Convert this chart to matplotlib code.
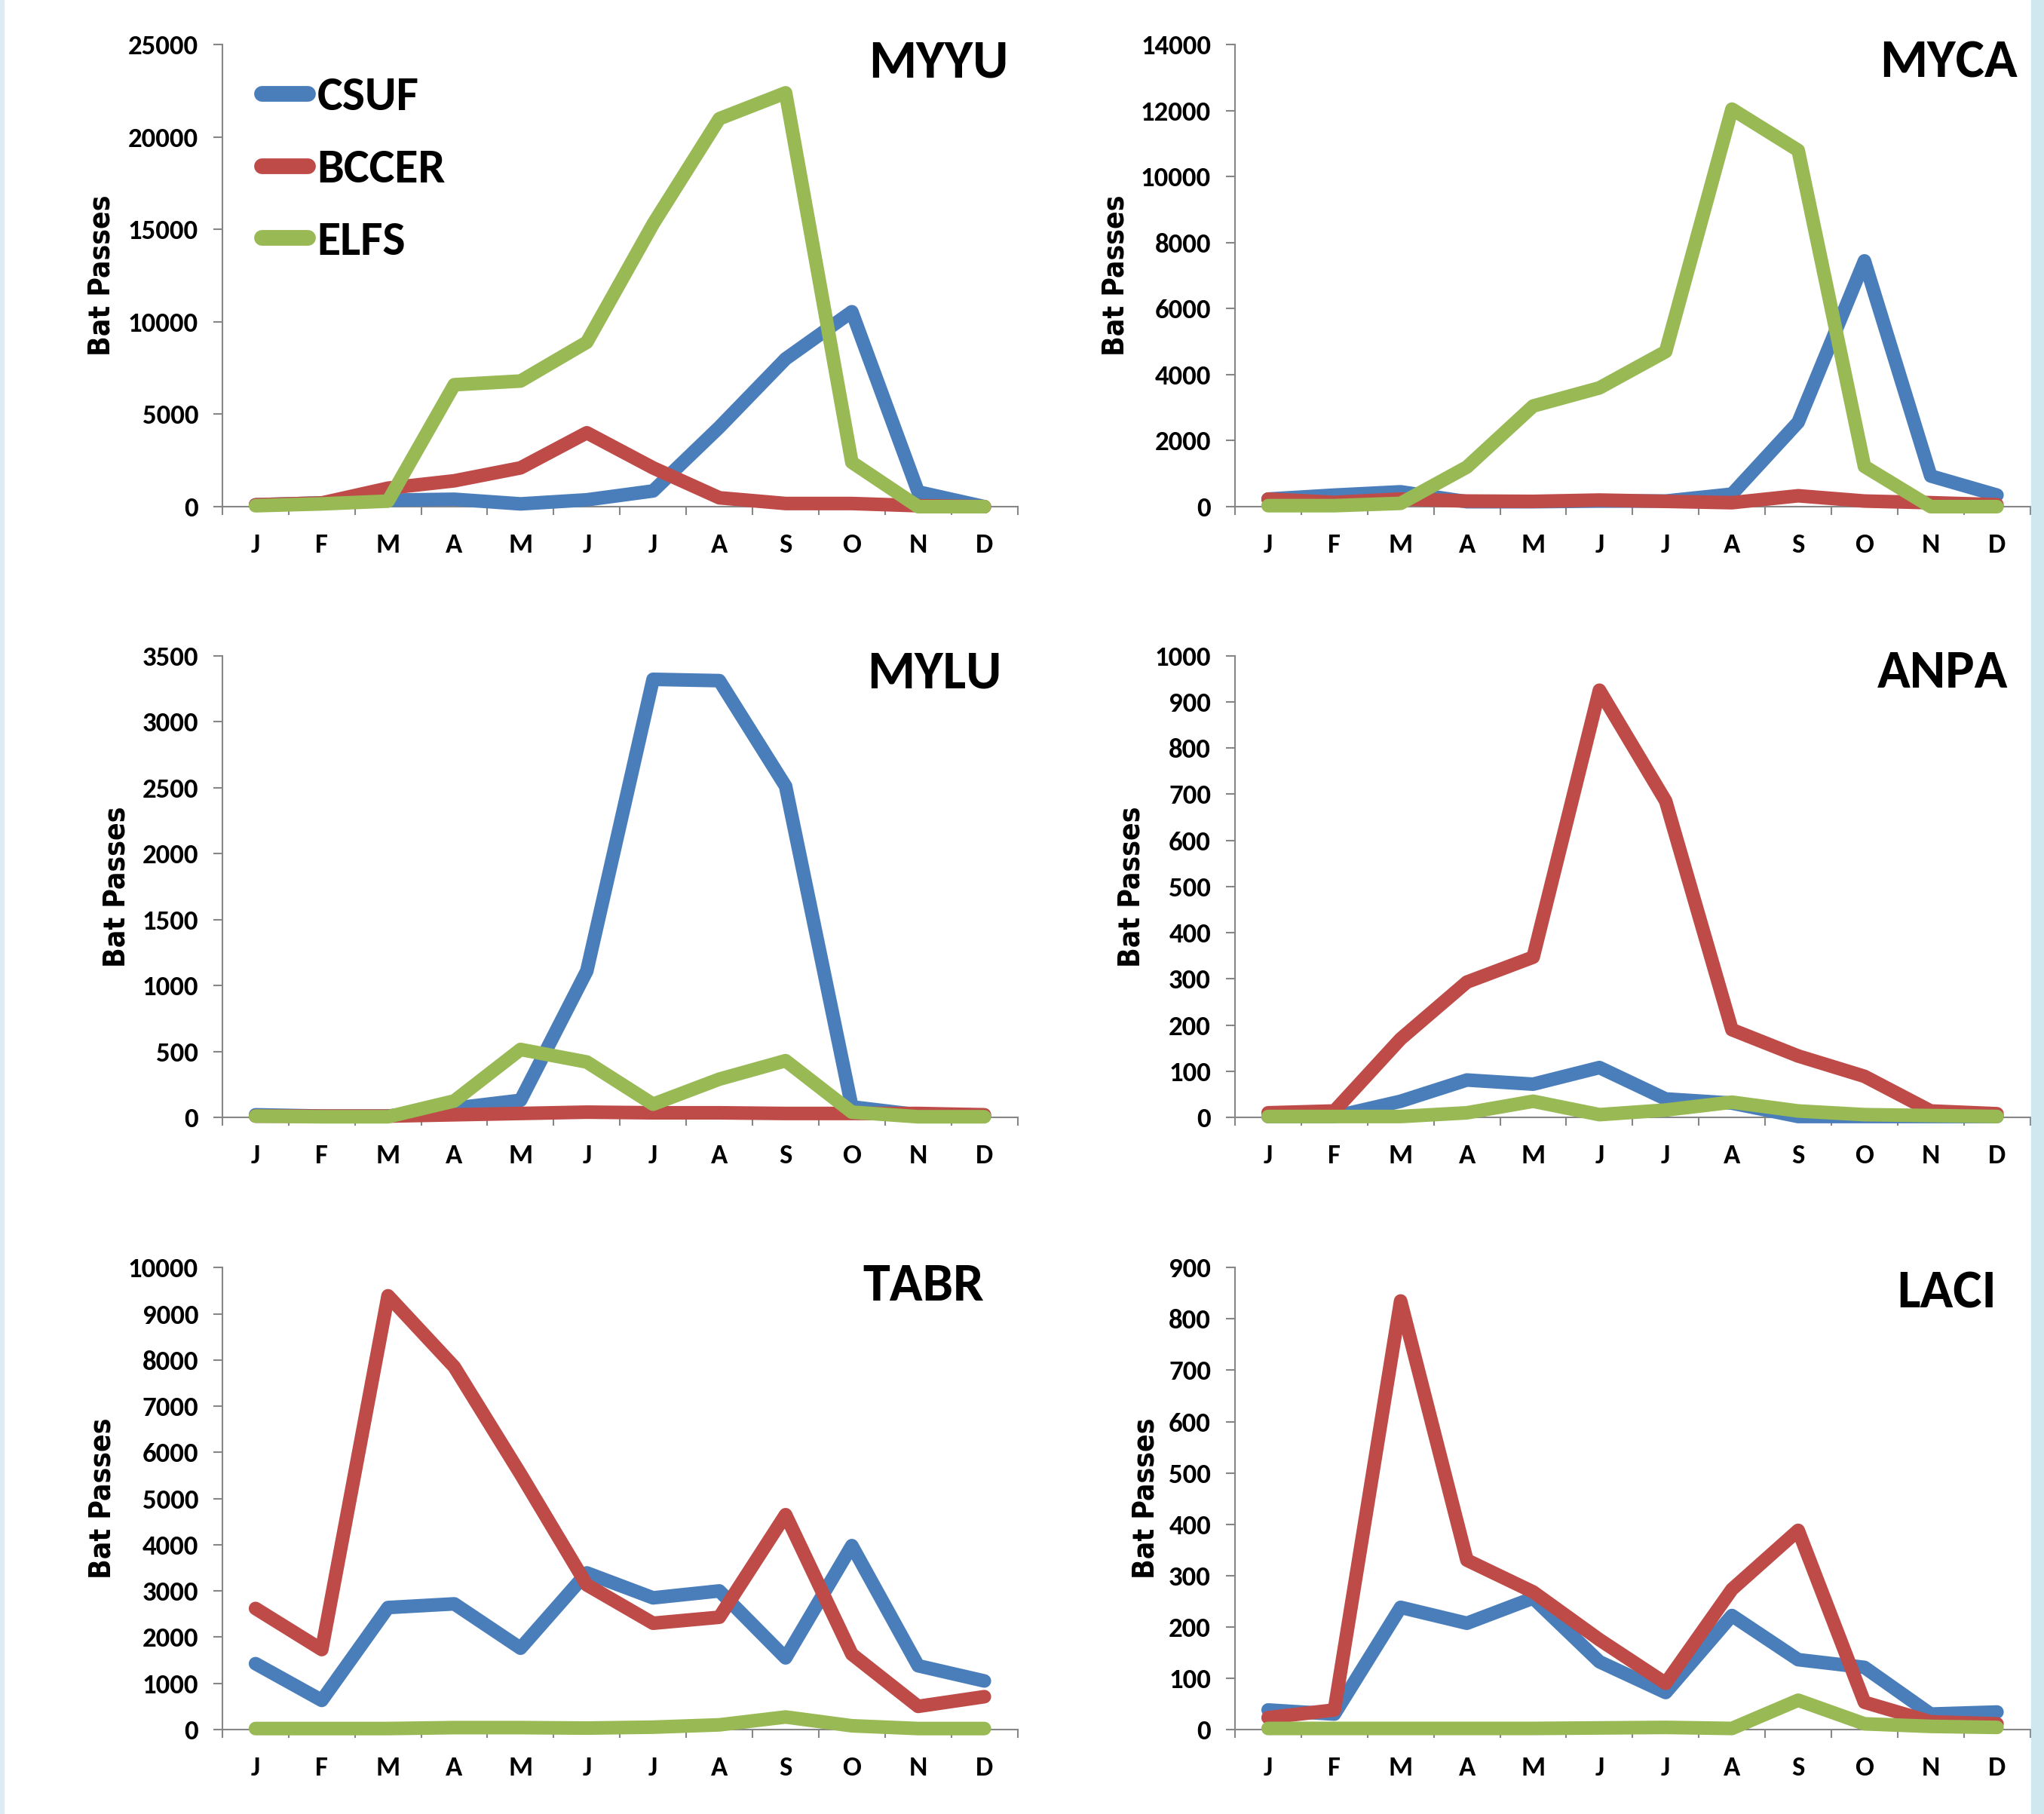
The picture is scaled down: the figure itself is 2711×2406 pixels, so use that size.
import matplotlib.pyplot as plt
from matplotlib.patches import Rectangle
from matplotlib.ticker import FixedLocator

months = ["J", "F", "M", "A", "M", "J", "J", "A", "S", "O", "N", "D"]
sites = ["CSUF", "BCCER", "ELFS"]
colors = ["#4A7EBB", "#BE4B48", "#98B954"]

# bat passes per month, one list per site
myyu_csuf = [100, 200, 350, 400, 150, 370, 850, 4300, 8000, 10550, 800, 0]
myyu_bccer = [100, 200, 1000, 1400, 2100, 4000, 2100, 480, 170, 170, 50, 0]
myyu_elfs = [50, 150, 300, 6600, 6800, 8900, 15300, 21000, 22400, 2400, 0, 0]

myca_csuf = [230, 350, 450, 150, 150, 170, 170, 380, 2560, 7450, 930, 350]
myca_bccer = [230, 130, 230, 170, 160, 200, 160, 120, 330, 170, 120, 60]
myca_elfs = [30, 30, 100, 1200, 3050, 3600, 4700, 12050, 10800, 1220, 0, 0]

mylu_csuf = [20, 10, 10, 70, 130, 1110, 3320, 3310, 2510, 80, 20, 10]
mylu_bccer = [10, 10, 10, 20, 30, 40, 35, 35, 30, 30, 30, 20]
mylu_elfs = [10, 5, 5, 125, 515, 420, 100, 290, 430, 40, 5, 5]

anpa_csuf = [2, 2, 35, 81, 72, 108, 40, 31, 2, 2, 2, 2]
anpa_bccer = [10, 14, 170, 293, 347, 925, 685, 190, 133, 89, 14, 8]
anpa_elfs = [2, 2, 2, 10, 35, 6, 16, 33, 14, 6, 4, 2]

tabr_csuf = [1425, 630, 2640, 2720, 1760, 3390, 2850, 3000, 1550, 3980, 1380, 1050]
tabr_bccer = [2620, 1730, 9390, 7850, 5530, 3130, 2300, 2430, 4650, 1630, 500, 710]
tabr_elfs = [20, 20, 20, 40, 40, 30, 50, 100, 270, 80, 20, 20]

laci_csuf = [38, 30, 238, 207, 256, 132, 72, 222, 136, 121, 30, 34]
laci_bccer = [23, 38, 835, 330, 268, 175, 90, 273, 388, 53, 15, 11]
laci_elfs = [2, 2, 2, 2, 2, 3, 4, 2, 57, 11, 6, 4]

panels = [
    ("MYYU", [myyu_csuf, myyu_bccer, myyu_elfs], 25000, 5000),
    ("MYCA", [myca_csuf, myca_bccer, myca_elfs], 14000, 2000),
    ("MYLU", [mylu_csuf, mylu_bccer, mylu_elfs], 3500, 500),
    ("ANPA", [anpa_csuf, anpa_bccer, anpa_elfs], 1000, 100),
    ("TABR", [tabr_csuf, tabr_bccer, tabr_elfs], 10000, 1000),
    ("LACI", [laci_csuf, laci_bccer, laci_elfs], 900, 100),
]

# axes boxes in figure fraction
col_x = [0.1088, 0.6042]
col_w = 0.389
row_y = [0.7207, 0.3840, 0.0466]
row_h = 0.2546

# title placement (right edge, centre height) and y label x offset
title_pos = [(0.989, 0.962), (0.984, 0.962), (0.98, 0.962),
             (0.972, 0.962), (0.958, 0.96), (0.958, 0.945)]
ylab_x = [-0.134, -0.132, -0.115, -0.112, -0.133, -0.094]

narrow = ["Carlito", "DejaVu Sans"]
axis_grey = "#868686"

fig = plt.figure(figsize=(27.11, 24.06), dpi=100)
fig.patches.append(Rectangle((0, 0), 5 / 2711, 1, transform=fig.transFigure,
                             color="#dcecf2", zorder=0))
fig.patches.append(Rectangle((2694 / 2711, 0), 17 / 2711, 1,
                             transform=fig.transFigure, color="#cfe7ef", zorder=0))

x = list(range(len(months)))

for i, (name, series, ymax, step) in enumerate(panels):
    r, c = divmod(i, 2)
    ax = fig.add_axes([col_x[c], row_y[r], col_w, row_h])

    for s, vals in enumerate(series):
        ax.plot(x, vals, color=colors[s], lw=13, label=sites[s],
                solid_capstyle="round", solid_joinstyle="round",
                clip_on=False, zorder=5 + s)

    ax.set_xlim(-0.5, 11.5)
    ax.set_ylim(0, ymax)
    ax.set_yticks(range(0, ymax + 1, step))

    ax.xaxis.set_major_locator(FixedLocator([k - 0.5 for k in range(13)]))
    ax.xaxis.set_minor_locator(FixedLocator(x))
    ax.set_xticklabels([], minor=False)
    ax.set_xticklabels(months, minor=True)
    ax.tick_params(axis="x", which="major", length=8, width=1.5,
                   color=axis_grey, direction="out")
    ax.tick_params(axis="x", which="minor", length=0, pad=25)
    ax.tick_params(axis="y", length=9, width=1.5, color=axis_grey,
                   direction="out", pad=14)
    for lab in ax.get_xticklabels(minor=True) + ax.get_yticklabels():
        lab.set_family(narrow)
        lab.set_fontweight("bold")
        lab.set_fontsize(26.5)

    for sp in ["top", "right"]:
        ax.spines[sp].set_visible(False)
    for sp in ["left", "bottom"]:
        ax.spines[sp].set_color(axis_grey)
        ax.spines[sp].set_linewidth(1.5)

    ax.set_ylabel("Bat Passes", fontsize=28, fontweight="bold",
                  family="DejaVu Sans", fontstretch="condensed")
    ax.yaxis.set_label_coords(ylab_x[i], 0.5)

    tx, ty = title_pos[i]
    ax.text(tx, ty, name, transform=ax.transAxes, ha="right", va="center",
            fontsize=52, fontweight="bold", family=narrow)

    if i == 0:
        leg = ax.legend(loc="upper left", bbox_to_anchor=(0.025, 0.975),
                        frameon=False, handlelength=0.95, handletextpad=0.2,
                        labelspacing=0.62, borderaxespad=0,
                        prop={"family": narrow, "weight": "bold", "size": 46})
        for h in leg.get_lines():
            h.set_linewidth(15)
            h.set_solid_capstyle("round")

fig.savefig("out.png", dpi=100)
